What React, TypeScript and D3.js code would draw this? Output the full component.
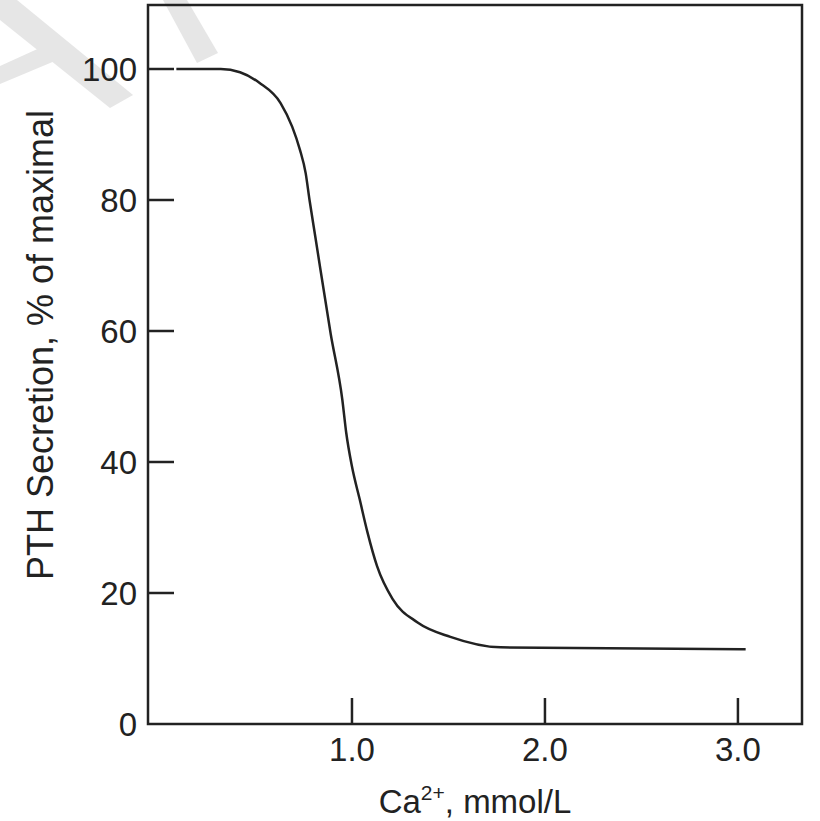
import { useEffect, useRef } from 'react';
import * as d3 from 'd3';

// Ca2+ (mmol/L) vs PTH secretion (% of maximal)
const calcium = [0.09, 0.26, 0.32, 0.42, 0.52, 0.63, 0.69, 0.73, 0.76, 0.78, 0.81, 0.89, 0.95, 0.97, 1.0, 1.04, 1.08, 1.13, 1.21, 1.34, 1.51, 1.77, 3.04];
const pthSecretion = [100, 100, 100, 99.5, 97.9, 94.8, 91.2, 87.7, 84.1, 80.0, 74.4, 59.5, 49.5, 44.5, 39.3, 34.3, 29.3, 24.1, 19.1, 15.5, 13.3, 11.7, 11.4];
const yTicks = [0, 20, 40, 60, 80, 100];
const xTicks = [1, 2, 3];
const xTickLabels = ['1.0', '2.0', '3.0'];

function App() {
  const svgRef = useRef<SVGSVGElement>(null);

  useEffect(() => {
    if (!svgRef.current) return;
    const svg = d3.select(svgRef.current);
    svg.selectAll('*').remove();

    const font = '"Liberation Sans", Arial, Helvetica, sans-serif';
    const ink = '#222';

    const x = d3.scaleLinear().domain([-0.057, 3.332]).range([148, 802]);
    const y = d3.scaleLinear().domain([0, 100]).range([724, 69]);

    // faint watermark strokes in the corner
    const wm = svg.append('g').attr('fill', '#e6e6e6');
    wm.append('polygon').attr('points', '0,0 17,0 133,95 110,108 0,20');
    wm.append('polygon').attr('points', '44,46 62,58 0,84 0,66');
    wm.append('polygon').attr('points', '163,0 187,0 218,53 197,63');

    // frame
    svg.append('rect')
      .attr('x', x.range()[0])
      .attr('y', 5)
      .attr('width', x.range()[1] - x.range()[0])
      .attr('height', y(0) - 5)
      .attr('fill', 'none')
      .attr('stroke', ink)
      .attr('stroke-width', 2.5);

    // y ticks (inward)
    yTicks.forEach(t => {
      if (t > 0) {
        svg.append('line')
          .attr('x1', x.range()[0]).attr('x2', x.range()[0] + 26)
          .attr('y1', y(t)).attr('y2', y(t))
          .attr('stroke', ink).attr('stroke-width', 2.5);
      }
      svg.append('text')
        .attr('x', 137)
        .attr('y', y(t))
        .attr('dy', '0.36em')
        .attr('text-anchor', 'end')
        .attr('font-family', font)
        .attr('font-size', 33)
        .attr('fill', ink)
        .text(t);
    });

    // x ticks (inward)
    xTicks.forEach((t, i) => {
      svg.append('line')
        .attr('x1', x(t)).attr('x2', x(t))
        .attr('y1', y(0)).attr('y2', y(0) - 26)
        .attr('stroke', ink).attr('stroke-width', 2.5);
      svg.append('text')
        .attr('x', x(t))
        .attr('y', 761)
        .attr('text-anchor', 'middle')
        .attr('font-family', font)
        .attr('font-size', 33)
        .attr('fill', ink)
        .text(xTickLabels[i]);
    });

    // curve
    const pts = calcium.map((c, i) => [c, pthSecretion[i]] as [number, number]);
    const line = d3.line<[number, number]>()
      .x(d => x(d[0]))
      .y(d => y(d[1]))
      .curve(d3.curveMonotoneX);
    svg.append('path')
      .datum(pts)
      .attr('d', line)
      .attr('fill', 'none')
      .attr('stroke', ink)
      .attr('stroke-width', 2.5);

    // axis titles
    const xt = svg.append('text')
      .attr('x', 475)
      .attr('y', 813)
      .attr('text-anchor', 'middle')
      .attr('font-family', font)
      .attr('font-size', 33)
      .attr('fill', ink);
    xt.append('tspan').text('Ca');
    xt.append('tspan').attr('font-size', 21).attr('dy', -13).text('2+');
    xt.append('tspan').attr('dy', 13).text(', mmol/L');

    svg.append('text')
      .attr('transform', 'translate(53,345) rotate(-90)')
      .attr('text-anchor', 'middle')
      .attr('font-family', font)
      .attr('font-size', 36)
      .attr('fill', ink)
      .text('PTH Secretion, % of maximal');
  }, []);

  return (
    <svg ref={svgRef} width={820} height={821}
      style={{ position: 'absolute', left: 0, top: 0, background: '#fff' }} />
  );
}

export default App;
